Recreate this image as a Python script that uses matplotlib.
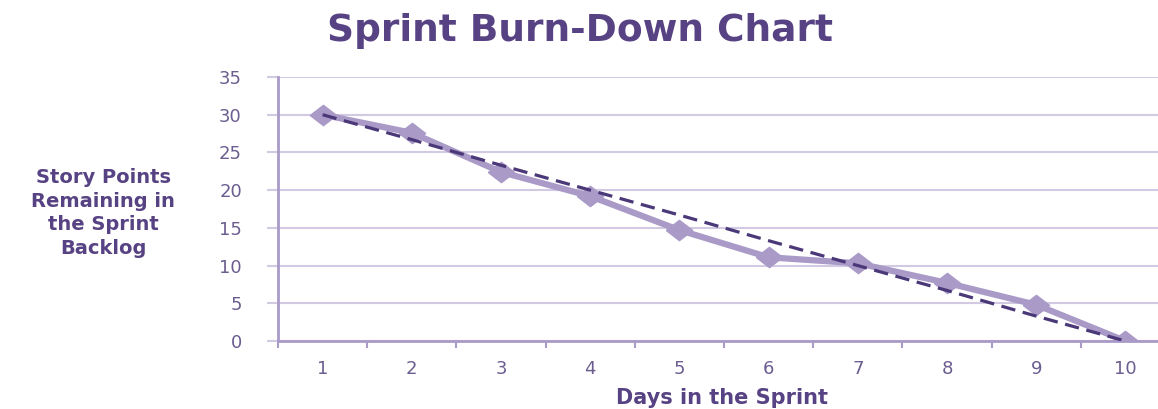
import matplotlib
matplotlib.use("Agg")
import matplotlib.pyplot as plt

days = [1, 2, 3, 4, 5, 6, 7, 8, 9, 10]
remaining = [30, 27.6, 22.4, 19.2, 14.7, 11.1, 10.3, 7.7, 4.8, 0]
ideal = [30, 26.7, 23.3, 20, 16.7, 13.3, 10, 6.7, 3.3, 0]
y_ticks = [0, 5, 10, 15, 20, 25, 30, 35]

TITLE = "Sprint Burn-Down Chart"
Y_LABEL = "Story Points\nRemaining in\nthe Sprint\nBacklog"
X_LABEL = "Days in the Sprint"

W, H = 1158, 409
fig = plt.figure(figsize=(W / 100, H / 100), dpi=100)
plt.rcParams["font.family"] = ["DejaVu Sans"]

purple_text = "#574283"
tick_text = "#6b5d90"
light = "#a99ac7"
dark = "#4a3878"
grid = "#d2cae2"

# axes box in pixel coordinates (right edge runs past the figure edge)
left, right, top, bottom = 278, 1170, 77, 341
ax = fig.add_axes([left / W, 1 - bottom / H, (right - left) / W, (bottom - top) / H])

ax.set_xlim(0.5, 10.5)
ax.set_ylim(0, 35)
ax.set_yticks(y_ticks)
ax.set_xticks(days)
ax.set_xticks([d + 0.5 for d in [0] + days], minor=True)
ax.grid(axis="y", color=grid, linewidth=1.5)
ax.set_axisbelow(True)

for s in ["top", "right"]:
    ax.spines[s].set_visible(False)
for s in ["left", "bottom"]:
    ax.spines[s].set_color(light)
    ax.spines[s].set_linewidth(2.0)

ax.tick_params(axis="y", length=8, width=1.5, color=grid, labelsize=13,
               labelcolor=tick_text, pad=18)
ax.tick_params(axis="x", which="major", length=0, labelsize=13,
               labelcolor=tick_text, pad=14)
ax.tick_params(axis="x", which="minor", length=5, width=1.5, color=light)

# diamonds are a little wider than tall
diamond = [(-1.3, 0), (0, 1), (1.3, 0), (0, -1), (-1.3, 0)]
ax.plot(days, remaining, color=light, linewidth=4.5, marker=diamond,
        markersize=19, markerfacecolor=light, markeredgecolor=light,
        solid_joinstyle="round", zorder=3)
ax.plot(days, ideal, color=dark, linewidth=2.3, linestyle=(0, (4.5, 2.4)),
        zorder=4)

fig.text(580 / W, 1 - 41 / H, TITLE, ha="center", va="baseline",
         fontsize=27, fontweight="bold", color=purple_text)
fig.text(103 / W, 1 - 213 / H, Y_LABEL, ha="center", va="center",
         fontsize=14, fontweight="bold", color=purple_text, linespacing=1.3)
fig.text(722 / W, 1 - 398 / H, X_LABEL, ha="center", va="center",
         fontsize=15, fontweight="bold", color=purple_text)

fig.savefig("out.png", dpi=100)
